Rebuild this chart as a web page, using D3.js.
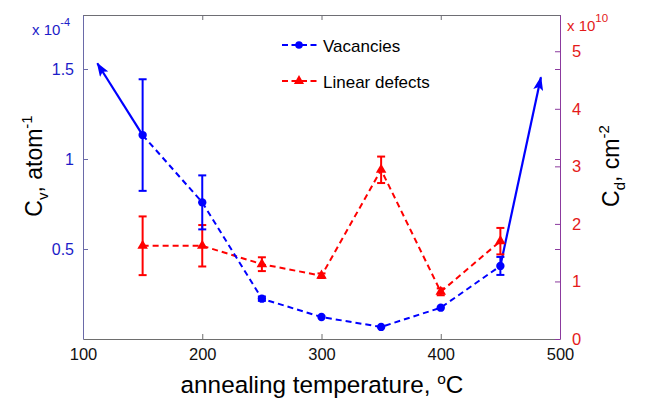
<!DOCTYPE html>
<html>
<head>
<meta charset="utf-8">
<script src="https://cdn.jsdelivr.net/npm/d3@7"></script>
<style>
  body { margin: 0; background: #fff; }
  svg { font-family: "Liberation Sans", Arial, sans-serif; }
</style>
</head>
<body>
<svg width="645" height="400"></svg>
<script>
// data
const temps = [150, 200, 250, 300, 350, 400, 450];
const vacancies = [1.133, 0.759, 0.224, 0.122, 0.067, 0.174, 0.406];   // x 1e-4 atom^-1
const vacErr = [0.31, 0.15, 0.012, 0, 0, 0, 0.05];
const defects = [1.62, 1.62, 1.30, 1.10, 2.94, 0.82, 1.70];            // x 1e10 cm^-2
const defErr = [0.51, 0.36, 0.12, 0.04, 0.23, 0.06, 0.23];
const xTicks = [100, 200, 300, 400, 500];
const leftTicks = [0.5, 1, 1.5];
const rightTicks = [0, 1, 2, 3, 4, 5];
// arrow annotations: [from x, from y, tip x, tip y] on the left axis
const arrows = [[150, 1.133, 112, 1.532], [450, 0.406, 484, 1.454]];

const blue = '#0000ff', red = '#ff0000';
const blueText = '#1c1cc8', redText = '#e41a1a';

const svg = d3.select('svg');
const width = +svg.attr('width');
const height = +svg.attr('height');
svg.append('rect').attr('width', width).attr('height', height).attr('fill', '#fff');

const plotL = 83, plotR = 560, plotT = 15, plotB = 339;

const x = d3.scaleLinear().domain([100, 500]).range([plotL, plotR]);
const yL = d3.scaleLinear().domain([0, 1.8]).range([plotB, plotT]);
const yR = d3.scaleLinear().domain([0, 5.63]).range([plotB, plotT]);

// axes (ticks inward, like matlab)
const gx = svg.append('g').attr('transform', `translate(0,${plotB})`)
  .call(d3.axisBottom(x).tickValues(xTicks).tickFormat(d3.format('d')).tickSize(-5).tickSizeOuter(0).tickPadding(9));
gx.selectAll('text').attr('font-size', 16.5).attr('fill', '#111');
gx.selectAll('line,path').attr('stroke', '#6e6e6e');

const gTop = svg.append('g').attr('transform', `translate(0,${plotT})`)
  .call(d3.axisTop(x).tickValues(xTicks).tickFormat('').tickSize(-5).tickSizeOuter(0));
gTop.selectAll('line,path').attr('stroke', '#6e6e74');

const gl = svg.append('g').attr('transform', `translate(${plotL},0)`)
  .call(d3.axisLeft(yL).tickValues(leftTicks).tickFormat(d => d).tickSize(-5).tickSizeOuter(0).tickPadding(9));
gl.selectAll('text').attr('font-size', 16).attr('fill', blueText);
gl.selectAll('line,path').attr('stroke', '#6a6aa8');

// left ticks mirrored on the right side
const glMirror = svg.append('g').attr('transform', `translate(${plotR},0)`)
  .call(d3.axisRight(yL).tickValues(leftTicks).tickFormat('').tickSize(-5).tickSizeOuter(0));
glMirror.selectAll('line').attr('stroke', '#8b3a9e');
glMirror.select('path').remove();

const gr = svg.append('g').attr('transform', `translate(${plotR},0)`)
  .call(d3.axisRight(yR).tickValues(rightTicks).tickFormat(d => d).tickSize(-5).tickSizeOuter(0).tickPadding(12));
gr.selectAll('text').attr('font-size', 16.5).attr('fill', redText);
gr.selectAll('line,path').attr('stroke', '#8b3a9e');

// exponents
const expL = svg.append('text').attr('x', 32).attr('y', 35).attr('font-size', 15).attr('fill', blueText);
expL.append('tspan').text('x 10');
expL.append('tspan').attr('dy', -9).attr('font-size', 11).text('-4');

const expR = svg.append('text').attr('x', 567).attr('y', 31).attr('font-size', 15).attr('fill', redText);
expR.append('tspan').text('x 10');
expR.append('tspan').attr('dy', -9).attr('font-size', 11.5).text('10');

// axis titles
const tL = svg.append('text').attr('transform', 'translate(42,166) rotate(-90)')
  .attr('text-anchor', 'middle').attr('font-size', 23).attr('fill', '#000');
tL.append('tspan').text('C');
tL.append('tspan').attr('dy', 6).attr('font-size', 15).text('v');
tL.append('tspan').attr('dy', -6).text(', atom');
tL.append('tspan').attr('dy', -10).attr('font-size', 15).text('-1');

const tR = svg.append('text').attr('transform', 'translate(619,166) rotate(-90)')
  .attr('text-anchor', 'middle').attr('font-size', 23).attr('fill', '#000');
tR.append('tspan').text('C');
tR.append('tspan').attr('dy', 6).attr('font-size', 15).text('d');
tR.append('tspan').attr('dy', -6).text(', cm');
tR.append('tspan').attr('dy', -10).attr('font-size', 15).text('-2');

const tX = svg.append('text').attr('x', 322).attr('y', 393)
  .attr('text-anchor', 'middle').attr('font-size', 24.3).attr('fill', '#000');
tX.append('tspan').text('annealing temperature, ');
tX.append('tspan').attr('dy', -9).attr('font-size', 15.5).text('o');
tX.append('tspan').attr('dy', 9).text('C');

// arrowhead marker
svg.append('defs').append('marker')
  .attr('id', 'head').attr('markerUnits', 'userSpaceOnUse')
  .attr('viewBox', '0 0 14 10').attr('markerWidth', 14).attr('markerHeight', 10)
  .attr('refX', 13).attr('refY', 5).attr('orient', 'auto')
  .append('path').attr('d', 'M0,0 L14,5 L0,10 L3,5 Z').attr('fill', blue);

svg.append('g').selectAll('line').data(arrows).join('line')
  .attr('x1', d => x(d[0])).attr('y1', d => yL(d[1]))
  .attr('x2', d => x(d[2])).attr('y2', d => yL(d[3]))
  .attr('stroke', blue).attr('stroke-width', 2.2)
  .attr('marker-end', 'url(#head)');

function drawSeries(vals, errs, y, color, symbol) {
  const pts = temps.map((t, i) => ({ t, v: vals[i], e: errs[i] }));
  const g = svg.append('g');
  g.append('path').datum(pts)
    .attr('d', d3.line().x(d => x(d.t)).y(d => y(d.v)))
    .attr('fill', 'none').attr('stroke', color).attr('stroke-width', 2)
    .attr('stroke-dasharray', '6,4');
  const eb = g.selectAll('.err').data(pts.filter(d => d.e > 0)).join('g');
  eb.append('line')
    .attr('x1', d => x(d.t)).attr('x2', d => x(d.t))
    .attr('y1', d => y(d.v - d.e)).attr('y2', d => y(d.v + d.e))
    .attr('stroke', color).attr('stroke-width', 2);
  [-1, 1].forEach(s => {
    eb.append('line')
      .attr('x1', d => x(d.t) - 4).attr('x2', d => x(d.t) + 4)
      .attr('y1', d => y(d.v + s * d.e)).attr('y2', d => y(d.v + s * d.e))
      .attr('stroke', color).attr('stroke-width', 2);
  });
  g.selectAll('.mk').data(pts).join('path')
    .attr('transform', d => `translate(${x(d.t)},${y(d.v)})`)
    .attr('d', d3.symbol(symbol, symbol === d3.symbolCircle ? 55 : 48))
    .attr('fill', color);
}

drawSeries(defects, defErr, yR, red, d3.symbolTriangle);
drawSeries(vacancies, vacErr, yL, blue, d3.symbolCircle);

// legend
const legend = [
  { name: 'Vacancies', color: blue, symbol: d3.symbolCircle, y: 45 },
  { name: 'Linear defects', color: red, symbol: d3.symbolTriangle, y: 81 }
];
const lg = svg.append('g').selectAll('g').data(legend).join('g')
  .attr('transform', d => `translate(282,${d.y})`);
lg.append('line').attr('x1', 0).attr('x2', 36)
  .attr('stroke', d => d.color).attr('stroke-width', 2).attr('stroke-dasharray', '6,3.5');
lg.append('path').attr('transform', 'translate(17,0)')
  .attr('d', d => d3.symbol(d.symbol, 45)()).attr('fill', d => d.color);
lg.append('text').attr('x', 41).attr('y', 6.5).attr('font-size', 17).attr('fill', '#000')
  .text(d => d.name);
</script>
</body>
</html>
